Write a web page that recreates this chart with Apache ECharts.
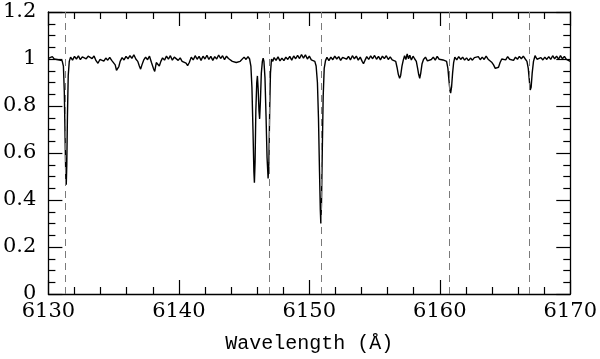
<!DOCTYPE html>
<html>
<head>
<meta charset="utf-8">
<script src="https://cdn.jsdelivr.net/npm/echarts@6/dist/echarts.min.js"></script>
<style>
  html, body { margin: 0; padding: 0; background: #fff; }
  #chart { width: 600px; height: 359px; }
</style>
</head>
<body>
<div id="chart"></div>
<script>
// spectrum: [wavelength (A), normalised flux]
var spectrum = [
  [6130.0,1.003],[6130.15,0.996],[6130.3,1.01],[6130.45,1.0],[6130.6,1.008],[6130.75,0.997],[6130.9,1.005],[6131.05,0.993],
  [6131.15,0.97],[6131.22,0.86],[6131.28,0.66],[6131.34,0.48],[6131.37,0.465],[6131.41,0.55],[6131.46,0.76],[6131.52,0.93],
  [6131.6,0.99],[6131.7,1.008],[6131.85,0.995],[6132.0,1.011],[6132.15,1.0],[6132.3,1.013],[6132.45,0.997],[6132.6,1.009],
  [6132.75,1.015],[6132.9,1.001],[6133.05,1.012],[6133.2,1.018],[6133.35,1.002],[6133.5,1.013],[6133.65,0.993],[6133.8,0.982],
  [6133.95,0.998],[6134.1,1.006],[6134.25,0.991],[6134.4,1.004],[6134.55,0.995],[6134.7,1.007],[6134.85,0.994],[6135.0,0.99],
  [6135.12,0.975],[6135.22,0.952],[6135.3,0.945],[6135.4,0.968],[6135.5,0.99],[6135.65,1.006],[6135.8,0.996],[6135.95,1.011],
  [6136.1,1.001],[6136.25,1.014],[6136.4,1.003],[6136.55,1.018],[6136.7,1.0],[6136.85,0.99],[6136.97,0.97],[6137.07,0.957],
  [6137.17,0.975],[6137.3,0.995],[6137.45,1.008],[6137.6,0.997],[6137.75,1.012],[6137.9,0.985],[6138.05,0.96],[6138.15,0.947],
  [6138.27,0.985],[6138.37,0.99],[6138.5,0.97],[6138.62,0.99],[6138.75,1.005],[6138.9,0.995],[6139.05,1.012],[6139.2,0.999],
  [6139.35,1.014],[6139.5,0.995],[6139.65,1.008],[6139.8,1.013],[6139.95,0.994],[6140.1,1.005],[6140.25,0.99],[6140.4,0.998],
  [6140.55,0.982],[6140.67,0.972],[6140.8,0.985],[6140.95,1.008],[6141.1,0.996],[6141.25,1.014],[6141.4,0.999],[6141.55,1.011],
  [6141.7,0.994],[6141.85,1.012],[6142.0,1.0],[6142.15,1.016],[6142.3,0.998],[6142.45,1.011],[6142.6,0.994],[6142.75,1.01],
  [6142.9,1.0],[6143.05,1.017],[6143.2,1.002],[6143.35,1.014],[6143.5,0.997],[6143.65,1.012],[6143.8,1.002],[6143.95,0.994],
  [6144.1,0.99],[6144.25,0.993],[6144.4,0.985],[6144.55,0.982],[6144.7,0.99],[6144.85,0.998],[6145.0,1.008],[6145.15,0.998],
  [6145.3,1.01],[6145.42,1.0],[6145.52,0.97],[6145.6,0.88],[6145.68,0.7],[6145.75,0.52],[6145.79,0.474],[6145.84,0.56],
  [6145.9,0.78],[6145.97,0.9],[6146.02,0.928],[6146.08,0.87],[6146.14,0.78],[6146.19,0.745],[6146.25,0.82],[6146.32,0.94],
  [6146.4,0.99],[6146.46,1.003],[6146.52,0.99],[6146.6,0.92],[6146.68,0.76],[6146.76,0.58],[6146.84,0.492],[6146.9,0.56],
  [6146.96,0.78],[6147.02,0.94],[6147.1,1.0],[6147.2,0.99],[6147.3,1.006],[6147.45,0.994],[6147.6,1.009],[6147.75,0.992],
  [6147.9,1.004],[6148.05,0.993],[6148.2,1.008],[6148.35,0.998],[6148.5,1.011],[6148.65,0.995],[6148.8,1.013],[6148.95,1.001],
  [6149.1,1.015],[6149.25,1.002],[6149.4,1.019],[6149.55,1.004],[6149.7,1.018],[6149.85,1.0],[6150.0,1.012],[6150.15,0.996],
  [6150.3,1.004],[6150.42,0.99],[6150.52,0.97],[6150.62,0.9],[6150.7,0.75],[6150.78,0.52],[6150.84,0.36],[6150.88,0.30],
  [6150.93,0.38],[6150.99,0.6],[6151.06,0.84],[6151.14,0.96],[6151.24,0.993],[6151.35,1.007],[6151.5,0.993],[6151.65,1.008],
  [6151.8,0.997],[6151.95,1.012],[6152.1,1.0],[6152.25,1.01],[6152.4,0.994],[6152.55,1.007],[6152.7,1.014],[6152.85,0.999],
  [6153.0,1.011],[6153.15,0.996],[6153.3,1.014],[6153.45,1.001],[6153.6,1.012],[6153.75,0.995],[6153.9,1.008],[6154.05,0.99],
  [6154.15,0.98],[6154.27,0.995],[6154.4,1.01],[6154.55,0.998],[6154.7,1.013],[6154.85,1.001],[6155.0,1.015],[6155.15,0.999],
  [6155.3,1.011],[6155.45,0.996],[6155.6,1.012],[6155.75,1.002],[6155.9,1.014],[6156.05,0.998],[6156.2,1.009],[6156.35,0.996],
  [6156.5,1.003],[6156.62,0.99],[6156.72,0.965],[6156.82,0.935],[6156.92,0.918],[6157.0,0.93],[6157.1,0.97],[6157.2,0.995],
  [6157.3,1.014],[6157.4,0.998],[6157.5,1.022],[6157.6,1.001],[6157.7,1.016],[6157.82,0.996],[6157.95,1.012],[6158.08,1.0],
  [6158.2,0.99],[6158.3,0.96],[6158.38,0.935],[6158.46,0.918],[6158.54,0.94],[6158.64,0.98],[6158.75,0.998],[6158.9,1.008],
  [6159.05,0.992],[6159.2,0.985],[6159.35,0.998],[6159.5,1.008],[6159.65,0.995],[6159.8,1.011],[6159.95,0.999],[6160.1,1.007],
  [6160.25,0.996],[6160.4,1.003],[6160.52,0.99],[6160.62,0.96],[6160.7,0.91],[6160.78,0.865],[6160.83,0.855],[6160.9,0.88],
  [6160.98,0.94],[6161.06,0.985],[6161.15,1.008],[6161.3,0.996],[6161.45,1.01],[6161.6,0.998],[6161.75,1.008],[6161.9,0.995],
  [6162.05,1.005],[6162.2,0.993],[6162.35,1.004],[6162.5,0.995],[6162.65,1.006],[6162.8,0.999],[6162.95,1.01],[6163.1,0.997],
  [6163.25,1.008],[6163.4,0.998],[6163.55,1.012],[6163.7,0.999],[6163.85,0.993],[6164.0,0.985],[6164.12,0.975],[6164.25,0.96],
  [6164.38,0.953],[6164.5,0.965],[6164.62,0.985],[6164.75,1.0],[6164.9,1.008],[6165.05,0.996],[6165.2,1.01],[6165.35,0.999],
  [6165.5,1.007],[6165.65,0.994],[6165.8,1.008],[6165.95,0.999],[6166.1,1.011],[6166.25,1.001],[6166.4,1.012],[6166.55,1.0],
  [6166.68,0.99],[6166.78,0.96],[6166.86,0.91],[6166.93,0.868],[6167.0,0.88],[6167.08,0.94],[6167.18,0.99],[6167.3,1.014],
  [6167.45,0.999],[6167.6,0.993],[6167.75,1.006],[6167.9,0.996],[6168.05,1.008],[6168.2,0.998],[6168.35,1.01],[6168.5,0.998],
  [6168.65,1.014],[6168.8,1.001],[6168.95,1.012],[6169.1,0.999],[6169.25,1.014],[6169.4,1.001],[6169.55,1.011],[6169.7,0.998],
  [6169.85,0.995],[6170.0,0.99]
];

// laboratory wavelengths marked by dashed lines
var labLines = [6131.27, 6146.91, 6150.93, 6160.76, 6166.85];

var xRange = [6130, 6170];
var yRange = [0, 1.2];

var myChart = echarts.init(document.getElementById('chart'));

var tickStyle = {color: '#000', width: 1.2};

function plainNum(v) {
    return String(Math.round(v * 100) / 100);
}

function xAxisOpt(pos, showLabel) {
    return {
        type: 'value',
        position: pos,
        min: xRange[0],
        max: xRange[1],
        interval: 10,
        name: showLabel ? 'Wavelength (Å)' : '',
        nameLocation: 'middle',
        nameGap: 40,
        nameTextStyle: {color: '#000', fontFamily: 'Liberation Mono', fontSize: 20},
        axisLine: {show: true, onZero: false, lineStyle: {color: '#000', width: 1.3}},
        axisTick: {show: true, inside: true, length: 14, lineStyle: tickStyle},
        minorTick: {show: true, splitNumber: 5, length: 7, lineStyle: tickStyle},
        axisLabel: {show: showLabel, color: '#000', fontFamily: 'DejaVu Serif', fontSize: 21, margin: 7, formatter: plainNum},
        splitLine: {show: false}
    };
}

function yAxisOpt(pos, showLabel) {
    return {
        type: 'value',
        position: pos,
        min: yRange[0],
        max: yRange[1],
        interval: 0.2,
        axisLine: {show: true, onZero: false, lineStyle: {color: '#000', width: 1.3}},
        axisTick: {show: true, inside: true, length: 14, lineStyle: tickStyle},
        minorTick: {show: true, splitNumber: 4, length: 7, lineStyle: tickStyle},
        axisLabel: {show: showLabel, color: '#000', fontFamily: 'DejaVu Serif', fontSize: 21, margin: 12, formatter: plainNum},
        splitLine: {show: false}
    };
}

var option = {
    backgroundColor: '#fff',
    animation: false,
    grid: {left: 48, right: 27, top: 12, bottom: 65, containLabel: false},
    xAxis: [xAxisOpt('bottom', true), xAxisOpt('top', false)],
    yAxis: [yAxisOpt('left', true), yAxisOpt('right', false)],
    series: [
        {
            name: 'lab',
            type: 'line',
            data: [],
            z: 1,
            markLine: {
                silent: true,
                symbol: ['none', 'none'],
                label: {show: false},
                lineStyle: {color: '#7a7a7a', width: 1, type: [7, 5]},
                data: labLines.map(function (w) { return {xAxis: w}; })
            }
        },
        {
            name: 'spectrum',
            type: 'line',
            z: 3,
            showSymbol: false,
            symbol: 'none',
            lineStyle: {color: '#000', width: 1.4},
            data: spectrum
        }
    ]
};

myChart.setOption(option);
</script>
</body>
</html>
